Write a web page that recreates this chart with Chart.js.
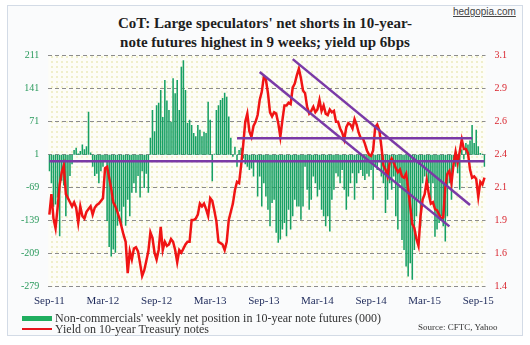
<!DOCTYPE html>
<html>
<head>
<meta charset="utf-8">
<script src="https://cdn.jsdelivr.net/npm/chart.js@4.4.1/dist/chart.umd.min.js"></script>
<style>
  html, body { margin: 0; padding: 0; background: #fff; }
  #wrap { position: relative; width: 530px; height: 345px; overflow: hidden; font-family: "Liberation Serif", "Times New Roman", serif; }
  #frame { position: absolute; left: 7px; top: 5px; width: 514px; height: 329px; border: 1px solid #d3dbe6; background: #fafbfc; }
  #title { position: absolute; left: 0; top: 14px; width: 530px; text-align: center; font-weight: bold; font-size: 15px; line-height: 19px; color: #1e1e1e; }
  #site { position: absolute; left: 453px; top: 6px; font-family: "Liberation Sans", Arial, sans-serif; font-size: 10px; color: #444; text-decoration: underline; }
  #chart { position: absolute; left: 0; top: 0; }
  .leg { position: absolute; left: 55px; font-size: 12px; line-height: 12px; color: #333; white-space: nowrap; }
  .sw { position: absolute; left: 22px; width: 30px; }
  #source { position: absolute; left: 418px; top: 322px; font-size: 9px; color: #333; }
</style>
</head>
<body>
<div id="wrap">
  <div id="frame"></div>
  <div id="title">CoT: Large speculators' net shorts in 10-year-<br>note futures highest in 9 weeks; yield up 6bps</div>
  <div id="site">hedgopia.com</div>
  <canvas id="chart" width="530" height="345"></canvas>
  <div class="sw" style="top:316px;height:5px;background:#1fae5f"></div>
  <div class="leg" style="top:312px">Non-commercials' weekly net position in 10-year note futures (000)</div>
  <div class="sw" style="top:328px;height:2px;background:#e8141c"></div>
  <div class="leg" style="top:323px">Yield on 10-year Treasury notes</div>
  <div id="source">Source: CFTC, Yahoo</div>
</div>
<script>
// axis ticks
const leftTicks = [211, 141, 71, 1, -69, -139, -209, -279];
const rightTickLabels = ["1.4", "1.6", "1.9", "2.1", "2.4", "2.6", "2.9", "3.1"];
const xTickLabels = ["Sep-11", "Mar-12", "Sep-12", "Mar-13", "Sep-13", "Mar-14", "Sep-14", "Mar-15", "Sep-15"];

// non-commercials net position (000), weekly from Sep-11
const netPosition = [
  -35, -60, -110, -105, -90, -172, -55, -65, -130, -90, -45, -20,
  10, 15, 3, 8, 22, 12, 18, 91,
  5, -25, -45, -40, -60, -35, -25, -12,
  -140, -195, -215, -200, -207, -150,
  -120, -150, -110, -150, -95, -130, -80,
  -60, -80, -45, -90, -35, -70, -40, -80,
  36, 95, 50, 105, 110, 137, 80, 158, 115, 95,
  70, 162, 130, 158, 95, 186, 200, 137, 67, 74,
  63, 46, 39, 63, 53, 39, 49, 46, 112, 74,
  -56, 2, 95, 105, 116, 120, 131, 123, 81, 36,
  -4, 17, -25, 10, 15, -8, -20, -25,
  -32, -29, -46, -11, -88, -46, -109, -60, -88, -116,
  -151, -102, -95, -165, -186, -179, -158, -144, -172, -116,
  -158, -130, -95, -109, -109, -137, -109, -25, -74, -116,
  -95, -46, -60, -88, -74, -116, -130, -151, -130, -162,
  -95, -74, -39, -46, -60, -32, -74, -116, -88, -60,
  -39,
  -95, -60, -39, -32, -45, -53, -40, -46, -32, -95,
  -25, -32, -15, -46, -60, -123, -95, -60, -74, -46,
  -130, -158, -60, -180, -201, -236, -257, -229, -264, -201,
  -130, -95, -151, -60, -46, -74, -60, -95, -60, -173,
  -158, -144, -130, -151, -183, -130, -60, -95, -18, -25,
  -39, -74, 11, -10, 25, 22, 30, 63, 25, 53,
  18, 4, 2, -25
];

// 10-year Treasury yield (%), weekly
const yield10 = [
  1.93, 2.08, 1.90, 1.83, 1.98, 2.15, 2.24, 2.29, 2.08, 2.05,
  2.02, 1.99, 2.02, 1.98, 1.87, 1.99, 1.92, 1.90, 1.95, 1.97,
  1.99, 1.93, 1.98, 2.00, 2.01, 2.03, 2.05,
  2.27, 2.28, 2.20, 2.12, 2.02, 1.99, 1.95, 1.90, 1.84, 1.78, 1.73,
  1.50, 1.66, 1.60, 1.68, 1.69, 1.66, 1.57, 1.48, 1.52, 1.59,
  1.66, 1.80, 1.76, 1.65,
  1.60, 1.67, 1.84, 1.67, 1.73, 1.70, 1.71, 1.75, 1.73, 1.67,
  1.58, 1.67, 1.65, 1.68, 1.71, 1.73, 1.73, 1.89, 1.89, 1.90,
  1.93, 2.01, 1.99, 2.01, 1.97, 1.92, 2.05, 2.03, 1.96, 1.88,
  1.73, 1.72, 1.71, 1.67, 1.73, 1.89, 1.95, 2.01, 2.11, 2.17,
  2.16, 2.29, 2.44, 2.61, 2.67, 2.54, 2.50, 2.58, 2.61, 2.66,
  2.77, 2.83, 2.94,
  2.92, 2.82, 2.68, 2.65, 2.68, 2.67, 2.60, 2.50, 2.62, 2.73,
  2.73, 2.75, 2.74, 2.86, 2.89, 2.95, 3.00, 2.93, 2.84, 2.82,
  2.72, 2.67, 2.69, 2.72, 2.68, 2.70, 2.77, 2.69, 2.73, 2.67,
  2.66, 2.70, 2.68, 2.69, 2.61, 2.61, 2.56, 2.53, 2.48, 2.57,
  2.60, 2.59, 2.56, 2.63, 2.59, 2.53, 2.49, 2.49, 2.45, 2.40,
  2.37, 2.36, 2.40, 2.57, 2.59, 2.55,
  2.43, 2.29, 2.26, 2.21, 2.31, 2.34, 2.31, 2.27, 2.24, 2.26,
  2.21, 2.20, 2.23, 2.12, 1.99, 1.86, 1.83, 1.75, 1.70, 1.92,
  2.04, 2.08, 2.18, 2.08, 2.01, 2.02, 1.97, 1.96, 1.93, 1.90,
  1.91, 2.13, 2.23, 2.25, 2.16, 2.30, 2.39, 2.31, 2.39, 2.48,
  2.41, 2.41, 2.38, 2.26, 2.20, 2.21, 2.19, 2.06, 2.17, 2.15,
  2.20
];

// hand-drawn trend lines: start week, start yield, end week, end yield
const supportFlat = [0, 2.32, 211, 2.32];
const resistFlat = [91, 2.49, 205, 2.49];
const channelTop = [118, 3.07, 204, 2.0];
const channelBottom = [102, 2.975, 194, 1.843];

// one label per week, Tuesdays from 6 Sep 2011
const weeks = [];
for (let i = 0; i < netPosition.length; i++) {
  const d = new Date(Date.UTC(2011, 8, 6 + 7 * i));
  weeks.push(d.toISOString().slice(0, 10));
}

const trend = (t) => {
  const data = weeks.map(() => null);
  data[t[0]] = t[1];
  data[t[2]] = t[3];
  return {
    type: "line",
    data: data,
    yAxisID: "yr",
    borderColor: "#7a3aa6",
    borderWidth: 2.5,
    pointRadius: 0,
    spanGaps: true,
    order: 1,
  };
};

// dotted plot background
const pat = document.createElement("canvas");
pat.width = 5;
pat.height = 5;
const pc = pat.getContext("2d");
pc.fillStyle = "#fdfdf7";
pc.fillRect(0, 0, 5, 5);
pc.fillStyle = "#f0efcb";
pc.fillRect(1, 1, 2, 2);

const plotBg = {
  id: "plotBg",
  beforeDraw(chart) {
    const { ctx, chartArea: a } = chart;
    ctx.save();
    ctx.fillStyle = ctx.createPattern(pat, "repeat");
    ctx.fillRect(a.left, a.top, a.right - a.left, a.bottom - a.top);
    ctx.restore();
  },
};

new Chart(document.getElementById("chart"), {
  type: "bar",
  data: {
    labels: weeks,
    datasets: [
      trend(supportFlat),
      trend(resistFlat),
      trend(channelTop),
      trend(channelBottom),
      {
        type: "line",
        data: yield10,
        yAxisID: "yr",
        borderColor: "#f01414",
        borderWidth: 2.5,
        pointRadius: 0,
        order: 2,
      },
      {
        type: "bar",
        data: netPosition,
        yAxisID: "yl",
        backgroundColor: "#17a064",
        barPercentage: 0.75,
        categoryPercentage: 1,
        order: 3,
      },
    ],
  },
  options: {
    responsive: false,
    animation: false,
    layout: { padding: { left: 12, right: 14, top: 55, bottom: 37 } },
    plugins: { legend: { display: false }, tooltip: { enabled: false } },
    scales: {
      x: {
        grid: { display: false },
        border: { display: false },
        ticks: {
          autoSkip: false,
          maxRotation: 0,
          padding: 0,
          color: "#1f2b5b",
          font: { family: "Liberation Serif", size: 11 },
          callback: (v, i) => (i % 26 === 0 ? xTickLabels[i / 26] : ""),
        },
      },
      yl: {
        position: "left",
        min: -279,
        max: 211,
        afterBuildTicks: (axis) => {
          axis.ticks = leftTicks.map((v) => ({ value: v }));
        },
        grid: { color: "#8d8d8d", lineWidth: 1, drawTicks: false },
        border: { display: false, dash: [4, 3] },
        ticks: {
          padding: 9,
          color: "#2a9a5c",
          font: { family: "Liberation Serif", size: 10 },
        },
      },
      yr: {
        position: "right",
        min: 1.4,
        max: 3.1,
        afterBuildTicks: (axis) => {
          axis.ticks = rightTickLabels.map((s, k) => ({ value: 1.4 + (k * 1.7) / 7 }));
        },
        grid: { display: false, drawTicks: false },
        border: { display: false },
        ticks: {
          padding: 9,
          color: "#d9262f",
          font: { family: "Liberation Serif", size: 10 },
          callback: (v, i) => rightTickLabels[i],
        },
      },
    },
  },
  plugins: [plotBg],
});
</script>
</body>
</html>
